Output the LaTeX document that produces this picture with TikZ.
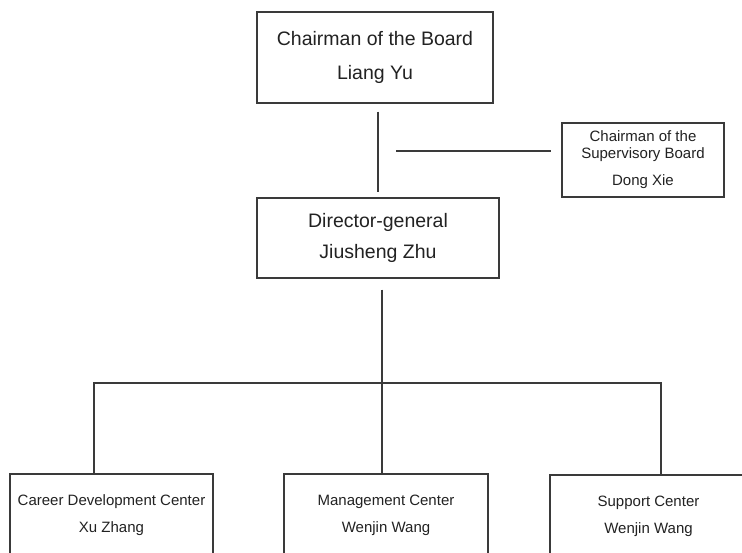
\documentclass[tikz,border=0pt]{standalone}
\usepackage{fontspec}
\setmainfont{Liberation Sans}
\begin{document}
\begin{tikzpicture}[x=1pt,y=-1pt,
  box/.style={draw=linegray,line width=1.3pt,rectangle,inner sep=0pt,align=center,text=textgray},
  bigbox/.style={box,font=\fontsize{19.5}{34}\selectfont},
  smallbox/.style={box,font=\fontsize{15}{27}\selectfont},
  conn/.style={draw=linegray,line width=1.3pt}]
\definecolor{linegray}{HTML}{3A3A3A}
\definecolor{textgray}{HTML}{222222}
\useasboundingbox (0,0) rectangle (742,552);
\fill[white] (0,0) rectangle (742,552);
\clip (0,0) rectangle (742,552);
\node[bigbox,minimum width=236pt,minimum height=91pt] (chair) at (375,57.5) {Chairman of the Board\\Liang Yu};
\node[box,font=\fontsize{15}{17}\selectfont,minimum width=162pt,minimum height=74pt] (sup) at (643,160) {Chairman of the\\Supervisory Board\\[10pt]Dong Xie};
\node[bigbox,font=\fontsize{19.5}{31}\selectfont,minimum width=242pt,minimum height=80pt] (dir) at (378,238) {Director-general\\Jiusheng Zhu};
\node[smallbox,minimum width=203pt,minimum height=82pt] (left) at (111.5,515) {Career Development Center\\Xu Zhang};
\node[smallbox,minimum width=204pt,minimum height=82pt] (mid) at (386,515) {Management Center\\Wenjin Wang};
\node[smallbox,minimum width=197pt,minimum height=82pt] (right) at (648.5,516) {Support Center\\Wenjin Wang};
\coordinate (sj) at (396,151);
\coordinate (busc) at (382,383);
\coordinate (bl) at (94,383);
\coordinate (br) at (661,383);
\draw[conn,shorten <=8pt,shorten >=5pt] (chair.south -| dir.south) -- (dir.north);
\draw[conn,shorten >=10pt] (sj) -- (sj -| sup.west);
\draw[conn,shorten <=11pt] (busc |- dir.south) -- (busc |- mid.north);
\draw[conn] (bl |- left.north) -- (bl) -- (br) -- (br |- right.north);
\end{tikzpicture}
\end{document}
